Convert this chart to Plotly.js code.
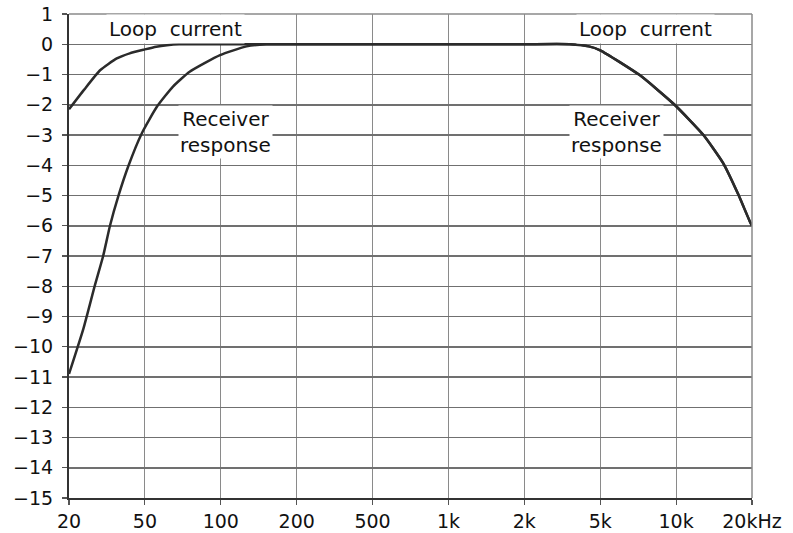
<!DOCTYPE html>
<html>
<head>
<meta charset="utf-8">
<script src="https://cdn.plot.ly/plotly-3.0.1.min.js"></script>
<style>html,body{margin:0;padding:0;background:#fff;}#chart{width:793px;height:533px;}</style>
</head>
<body>
<div id="chart"></div>
<script>
// Frequency tick labels (equally spaced on the chart)
const freqLabels = ["20", "50", "100", "200", "500", "1k", "2k", "5k", "10k", "20kHz"];
const yTicks = [1, 0, -1, -2, -3, -4, -5, -6, -7, -8, -9, -10, -11, -12, -13, -14, -15];

// Positions measured in tick steps from 20 Hz (0) to 20 kHz (9)
const loopLowX = [0, 0.2, 0.41, 0.63, 0.8, 1.0, 1.15, 1.29, 1.45, 1.7];
const loopLowY = [-2.15, -1.5, -0.86, -0.47, -0.3, -0.17, -0.08, -0.03, 0, 0];

const recvLowX = [0, 0.19, 0.34, 0.45, 0.54, 0.65, 0.78, 0.96, 1.16, 1.37, 1.59, 1.99, 2.34, 2.6];
const recvLowY = [-10.9, -9.4, -7.98, -7.0, -6.0, -5.02, -4.04, -2.94, -2.06, -1.4, -0.91, -0.36, -0.07, 0];

// Flat 0 dB section in the middle band
const midX = [3, 4, 5, 6];
const midY = [0, 0, 0, 0];

const highX = [6.6, 6.85, 7.0, 7.52, 7.98, 8.36, 8.62, 8.82, 8.97, 9.0];
const highY = [0, -0.07, -0.2, -1.02, -2.0, -3.0, -3.93, -4.97, -5.85, -6.0];

const curveColor = "#2b2b2b";
const fontFam = "DejaVu Sans, Arial, sans-serif";

const traces = [
  {x: loopLowX.concat([2, 2.5], midX, highX), y: loopLowY.concat([0, 0], midY, highY), mode: "lines", name: "Loop current",
   line: {color: curveColor, width: 2.5, shape: "spline", smoothing: 0.5}, hoverinfo: "skip"},
  {x: recvLowX.concat(midX, highX), y: recvLowY.concat(midY, highY), mode: "lines", name: "Receiver response",
   line: {color: curveColor, width: 2.5, shape: "spline", smoothing: 0.5}, hoverinfo: "skip"}
];

const annFont = {family: fontFam, size: 20, color: "#111"};
const tickFont = {family: fontFam, size: 19, color: "#111"};
const layout = {
  width: 793, height: 533,
  margin: {l: 69, r: 41, t: 14, b: 35},
  paper_bgcolor: "#fff", plot_bgcolor: "#fff",
  showlegend: false,
  xaxis: {
    range: [0, 9], tickmode: "array",
    tickvals: freqLabels.map((_, i) => i), ticktext: freqLabels,
    showgrid: true, gridcolor: "#8a8a8a", gridwidth: 1.2,
    showline: true, linecolor: "#333", linewidth: 2,
    ticks: "outside", ticklen: 5, tickcolor: "#555", tickwidth: 1.2,
    tickfont: tickFont,
    zeroline: false, fixedrange: true
  },
  yaxis: {
    range: [-15, 1], tickmode: "array", tickvals: yTicks,
    showgrid: true, gridcolor: "#707070", gridwidth: 1.5,
    showline: true, linecolor: "#333", linewidth: 2,
    ticks: "outside", ticklen: 5, tickcolor: "#555", tickwidth: 1.2,
    tickfont: tickFont, ticklabelstandoff: 5,
    zeroline: false, fixedrange: true
  },
  shapes: [
    {type: "line", xref: "paper", yref: "paper", x0: 0, x1: 1, y0: 1, y1: 1, line: {color: "#8a8a8a", width: 1.5}},
    {type: "line", xref: "paper", yref: "paper", x0: 1, x1: 1, y0: 0, y1: 1, line: {color: "#8a8a8a", width: 1.5}}
  ],
  annotations: [
    {x: 1.4, y: 0.5, xref: "x", yref: "y", text: "Loop  current", showarrow: false, font: annFont, bgcolor: "#fff", borderpad: 2},
    {x: 7.6, y: 0.5, xref: "x", yref: "y", text: "Loop  current", showarrow: false, font: annFont, bgcolor: "#fff", borderpad: 2},
    {x: 2.06, y: -2.9, xref: "x", yref: "y", text: "Receiver<br>response", showarrow: false, font: annFont, bgcolor: "#fff", borderpad: 1},
    {x: 7.22, y: -2.9, xref: "x", yref: "y", text: "Receiver<br>response", showarrow: false, font: annFont, bgcolor: "#fff", borderpad: 1}
  ]
};

Plotly.newPlot("chart", traces, layout, {staticPlot: true, displayModeBar: false});
</script>
</body>
</html>
